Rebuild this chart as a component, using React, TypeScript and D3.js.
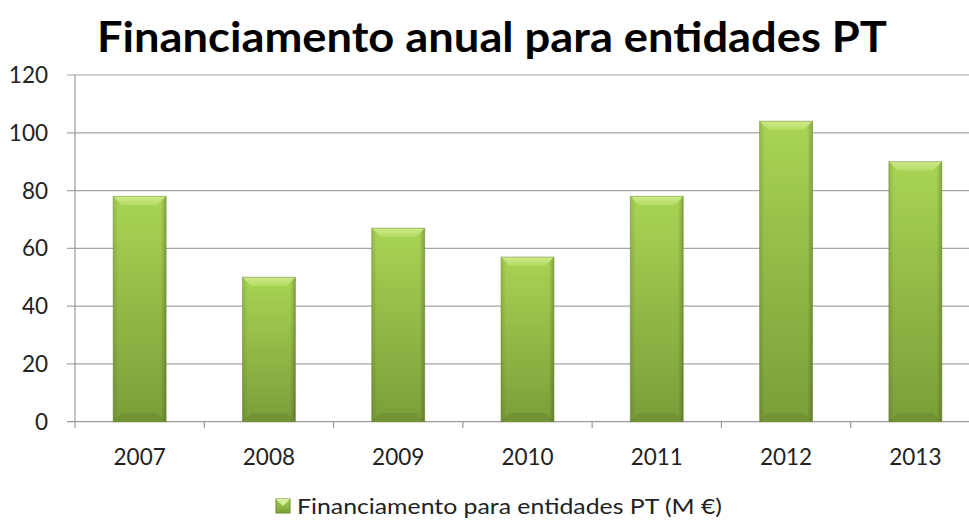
import React from "react";
import * as d3 from "d3";

const years = ["2007", "2008", "2009", "2010", "2011", "2012", "2013"];
const values = [78, 50, 67, 57, 78, 104, 90];
const yTicks = [0, 20, 40, 60, 80, 100, 120];
const title = "Financiamento anual para entidades PT";
const seriesName = "Financiamento para entidades PT (M €)";

const W = 969;
const H = 520;
const FONT = "Lato, 'Open Sans', sans-serif";

export default function App() {
  const x = d3
    .scaleBand<string>()
    .domain(years)
    .range([75, 980])
    .paddingInner(0.59)
    .paddingOuter(0.295);
  const y = d3.scaleLinear().domain([0, 120]).range([421.7, 75]);
  const step = x.step();
  const b = 9;

  return (
    <svg
      width={W}
      height={H}
      style={{ position: "absolute", left: 0, top: 0, background: "#fff" }}
    >
      <defs>
        <linearGradient id="gv" x1="0" y1="0" x2="0" y2="1">
          <stop offset="0" stopColor="#a9d454" />
          <stop offset="1" stopColor="#7b9e39" />
        </linearGradient>
        <linearGradient id="gh" x1="0" y1="0" x2="1" y2="0">
          <stop offset="0" stopColor="#000" stopOpacity="0.12" />
          <stop offset="0.1" stopColor="#000" stopOpacity="0" />
          <stop offset="0.9" stopColor="#000" stopOpacity="0" />
          <stop offset="1" stopColor="#000" stopOpacity="0.22" />
        </linearGradient>
        <linearGradient id="gt" x1="0" y1="0" x2="0" y2="1">
          <stop offset="0" stopColor="#d6ef98" />
          <stop offset="1" stopColor="#b5dc62" />
        </linearGradient>
      </defs>
      <text
        x={492}
        y={52}
        textAnchor="middle"
        fontFamily={FONT}
        fontWeight="bold"
        fontSize={42}
        fill="#000"
        textLength={790}
        lengthAdjust="spacingAndGlyphs"
      >
        {title}
      </text>
      {yTicks.map((t) => (
        <g key={t}>
          <line x1={67} x2={980} y1={y(t)} y2={y(t)} stroke={t === 0 ? "#9a9a9a" : "#a6a6a6"} strokeWidth={1.2} />
          <text
            x={48}
            y={y(t) + 8}
            textAnchor="end"
            fontFamily={FONT}
            fontSize={22.5}
            fill="#222"
          >
            {t}
          </text>
        </g>
      ))}
      <line x1={75} x2={75} y1={75} y2={421.7} stroke="#9a9a9a" strokeWidth={1.2} />
      {years.map((yr, i) => {
        const x0 = 75 + step * i;
        return (
          <line key={"t" + yr} x1={x0} x2={x0} y1={421.7} y2={428} stroke="#9a9a9a" strokeWidth={1.2} />
        );
      })}
      {years.map((yr, i) => {
        const bx = x(yr)!;
        const bw = x.bandwidth();
        const by = y(values[i]);
        const bh = y(0) - by;
        return (
          <g key={yr}>
            <rect x={bx} y={by} width={bw} height={bh} fill="url(#gv)" />
            <rect x={bx} y={by} width={bw} height={bh} fill="url(#gh)" />
            <polygon
              points={`${bx},${by} ${bx + bw},${by} ${bx + bw - b},${by + b} ${bx + b},${by + b}`}
              fill="url(#gt)"
              opacity={0.85}
            />
            <polygon
              points={`${bx},${by + bh} ${bx + bw},${by + bh} ${bx + bw - b},${by + bh - b} ${bx + b},${by + bh - b}`}
              fill="#5f7e2a"
              opacity={0.35}
            />
            <rect x={bx} y={by} width={bw} height={bh} fill="none" stroke="#6d8c32" strokeOpacity={0.5} strokeWidth={1} />
          </g>
        );
      })}
      {years.map((yr) => (
        <text
          key={"l" + yr}
          x={x(yr)! + x.bandwidth() / 2}
          y={465}
          textAnchor="middle"
          fontFamily={FONT}
          fontSize={22.5}
          fill="#222"
        >
          {yr}
        </text>
      ))}
      <g>
        <rect x={276} y={499} width={14} height={14} fill="url(#gv)" stroke="#6d8c32" strokeWidth={1} />
        <polygon points="276,499 290,499 283,506" fill="#d9ef9a" />
        <text
          x={297}
          y={514}
          fontFamily={FONT}
          fontSize={22}
          fill="#222"
          textLength={425}
          lengthAdjust="spacingAndGlyphs"
        >
          {seriesName}
        </text>
      </g>
    </svg>
  );
}
